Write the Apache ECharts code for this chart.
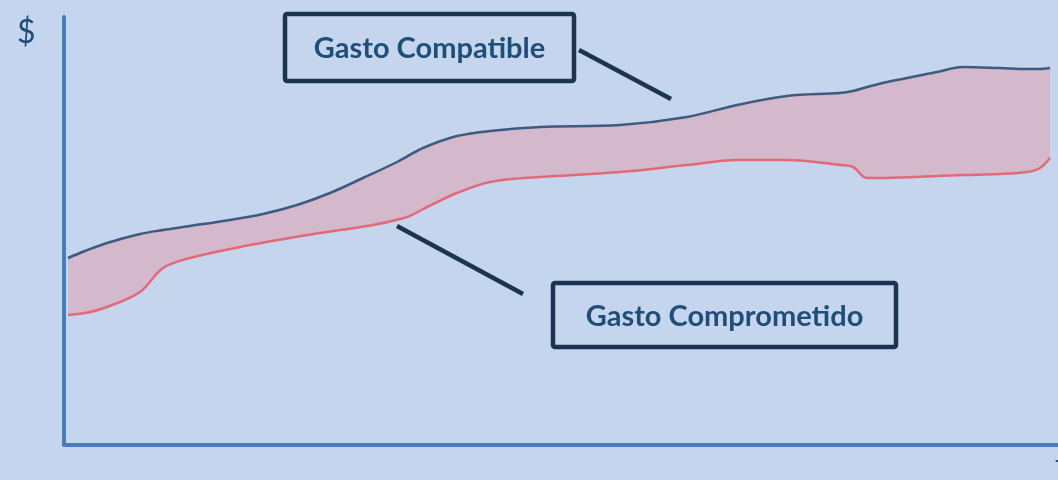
<!DOCTYPE html>
<html>
<head>
<meta charset="utf-8">
<script src="https://cdn.jsdelivr.net/npm/echarts@6/dist/echarts.min.js"></script>
<style>
html,body{margin:0;padding:0;background:#c5d5ee;}
#c{width:1058px;height:480px;}
</style>
</head>
<body>
<div id="c"></div>
<script>
// Gasto Compatible (upper curve): time positions and values
const compatibleTimes = [0,17,39,72,95,122,162,195,229,262,295,329,355,389,422,472,552,619,669,719,772,785,799,819,869,895,932,959,972,982];
const compatibleValues = [187,194,202,211,215,219,225,231,240,252,267,283,297,309,314,318,320,328,340,349,352,354,358,363,373,378,377,376,376,377];
// Gasto Comprometido (lower curve): time positions and values
const comprometidoTimes = [0,17,39,72,95,122,172,239,272,305,339,359,389,422,472,552,619,669,719,772,785,799,819,869,895,932,959,972,982];
const comprometidoValues = [130,132,138,153,177,187,198,210,215,220,228,238,252,263,268,273,280,285,285,280,278,267,267,269,270,271,273,277,287];
const seriesNames = ['Gasto Compatible', 'Gasto Comprometido'];
const axisNames = ['$', 't'];

const lowerData = comprometidoTimes.map((t, i) => [t, comprometidoValues[i]]);
const upperData = compatibleTimes.map((t, i) => [t, compatibleValues[i]]);

const BG = '#c5d5ee';
const chart = echarts.init(document.getElementById('c'));
const SM = 0.35;
chart.setOption({
  backgroundColor: BG,
  animation: false,
  grid: {left: 64, right: 0, top: 17, bottom: 35},
  xAxis: {
    type: 'value', min: -4, max: 990, z: 8,
    axisLine: {show: true, onZero: false, lineStyle: {color: '#4a7ebb', width: 4}},
    axisTick: {show: false}, axisLabel: {show: false}, splitLine: {show: false}
  },
  yAxis: {
    type: 'value', min: 0, max: 428, z: 8,
    axisLine: {show: true, onZero: false, lineStyle: {color: '#4a7ebb', width: 4}},
    axisTick: {show: false}, axisLabel: {show: false}, splitLine: {show: false}
  },
  series: [
    {
      name: seriesNames[0] + ' area', type: 'line', data: upperData,
      smooth: SM, showSymbol: false, symbol: 'none', z: 2, silent: true,
      lineStyle: {width: 0, opacity: 0},
      areaStyle: {color: '#d4b8cc', opacity: 1}
    },
    {
      name: seriesNames[1] + ' area', type: 'line', data: lowerData,
      smooth: SM, showSymbol: false, symbol: 'none', z: 3, silent: true,
      lineStyle: {width: 0, opacity: 0},
      areaStyle: {color: BG, opacity: 1}
    },
    {
      name: seriesNames[1], type: 'line', data: lowerData,
      smooth: SM, showSymbol: false, symbol: 'none', z: 9,
      lineStyle: {color: '#e26a78', width: 2.5}
    },
    {
      name: seriesNames[0], type: 'line', data: upperData,
      smooth: SM, showSymbol: false, symbol: 'none', z: 9,
      lineStyle: {color: '#3d5b80', width: 2.5}
    }
  ],
  graphic: [
    {type: 'text', left: 17, top: 17, z: 10,
      style: {text: axisNames[0], font: '400 32px Lato', fill: '#1f4e79'}},
    {type: 'text', left: 1055, top: 451, z: 10,
      style: {text: axisNames[1], font: '400 30px Lato', fill: '#1f4e79'}},
    {type: 'line', z: 10, shape: {x1: 579, y1: 50, x2: 671, y2: 99},
      style: {stroke: '#1d3450', lineWidth: 4.5}},
    {type: 'line', z: 10, shape: {x1: 397, y1: 226, x2: 523, y2: 294},
      style: {stroke: '#1d3450', lineWidth: 4.5}},
    {type: 'rect', z: 10, shape: {x: 285, y: 14, width: 289, height: 67, r: 2},
      style: {fill: 'none', stroke: '#1d3450', lineWidth: 4.5}},
    {type: 'rect', z: 10, shape: {x: 553, y: 283, width: 343, height: 64, r: 2},
      style: {fill: 'none', stroke: '#1d3450', lineWidth: 4.5}},
    {type: 'text', z: 10, x: 429.5, y: 49,
      style: {text: seriesNames[0], font: '700 29px Lato', fill: '#1f4e79', textAlign: 'center', textVerticalAlign: 'middle'}},
    {type: 'text', z: 10, x: 724.5, y: 317,
      style: {text: seriesNames[1], font: '700 29px Lato', fill: '#1f4e79', textAlign: 'center', textVerticalAlign: 'middle'}}
  ]
});
</script>
</body>
</html>
